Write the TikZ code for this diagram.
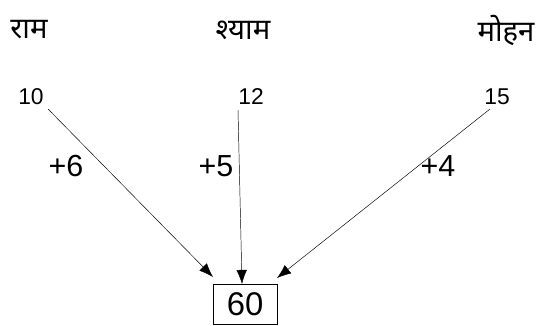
\documentclass[tikz,border=0pt]{standalone}
\usepackage{fontspec}
\setmainfont{Liberation Sans}
\newfontfamily\devfont[Script=Devanagari]{Noto Sans}
\usetikzlibrary{arrows.meta}

\begin{document}
\begin{tikzpicture}[x=0.03cm,y=-0.03cm,>={Latex[length=12pt,width=9pt]}]
    \useasboundingbox (0,0) rectangle (544,325);
    \tikzset{person/.style={font=\devfont\fontsize{25}{30}\selectfont,inner sep=0pt},
             num/.style={font=\fontsize{19.5}{23}\selectfont,inner sep=0pt},
             gain/.style={font=\fontsize{26}{30}\selectfont,inner sep=0pt}}
    % names
    \node[person] (ram)   at (29,30)  {राम};
    \node[person] (shyam) at (243,30) {श्याम};
    \node[person] (mohan) at (506,30) {मोहन};
    % amounts
    \node[num] (a10) at (31,97)  {10};
    \node[num] (a12) at (251,97) {12};
    \node[num] (a15) at (497,97) {15};
    % total
    \node[draw,font=\fontsize{28}{32}\selectfont,minimum width=1.92cm,
          minimum height=1.2cm,inner sep=0pt] (total) at (245,304) {60};
    \coordinate (s10) at (48,109);
    \coordinate (s12) at (238,110);
    \coordinate (s15) at (490,109);
    \coordinate (e10) at (213,277);
    \coordinate (e12) at (242,284);
    \coordinate (e15) at (277,278);
    \draw[->] (s10) -- (e10);
    \draw[->] (s12) -- (e12);
    \draw[->] (s15) -- (e15);
    % gains
    \node[gain] (g6) at (66,166)  {+6};
    \node[gain] (g5) at (216,166) {+5};
    \node[gain] (g4) at (438,166) {+4};
\end{tikzpicture}
\end{document}
